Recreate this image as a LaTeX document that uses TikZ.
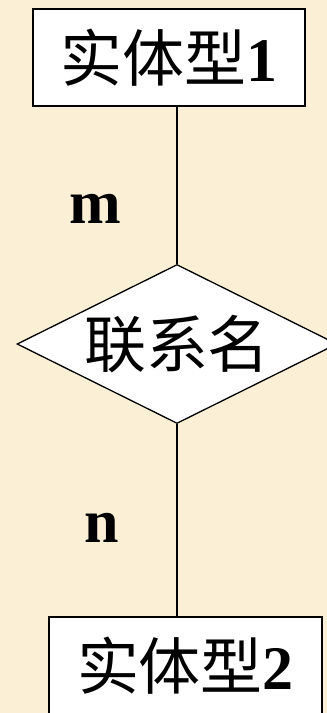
\documentclass[tikz,border=0pt]{standalone}
\usepackage{fontspec}
\setmainfont{Liberation Serif}
\newfontfamily\cjk{Noto Sans CJK SC}
\usetikzlibrary{shapes.geometric}
\definecolor{parch}{HTML}{FBEFD6}
\tikzset{
  entity/.style={draw, line width=1.6pt, fill=white, inner sep=0pt,
    minimum width=272pt, minimum height=97pt},
  rel/.style={draw, diamond, aspect=2, line width=1.3pt, fill=white, inner sep=0pt,
    minimum width=320pt, minimum height=159pt},
  card/.style={font=\fontsize{62}{64}\selectfont\bfseries, inner sep=0pt},
  conn/.style={line width=1.3pt},
}
\begin{document}
\begin{tikzpicture}[x=1pt,y=-1pt]
\useasboundingbox (0,0) rectangle (327,713);
\fill[parch] (0,0) rectangle (327,713);
\node[entity] (e1) at (169,57.5) {\fontsize{62}{66}\selectfont\cjk 实体型\rmfamily\bfseries 1};
\node[rel] (r) at (177,344) {\fontsize{62}{66}\selectfont\cjk 联系名};
\node[entity, minimum width=273pt] (e2) at (185.5,665.5) {\fontsize{62}{66}\selectfont\cjk 实体型\rmfamily\bfseries 2};
\draw[conn] (r.north) -- (r.north |- e1.south);
\draw[conn] (r.south) -- (r.south |- e2.north);
\node[card] (m) at (95,209) {m};
\node[card] (n) at (102,528) {n};
\end{tikzpicture}
\end{document}
